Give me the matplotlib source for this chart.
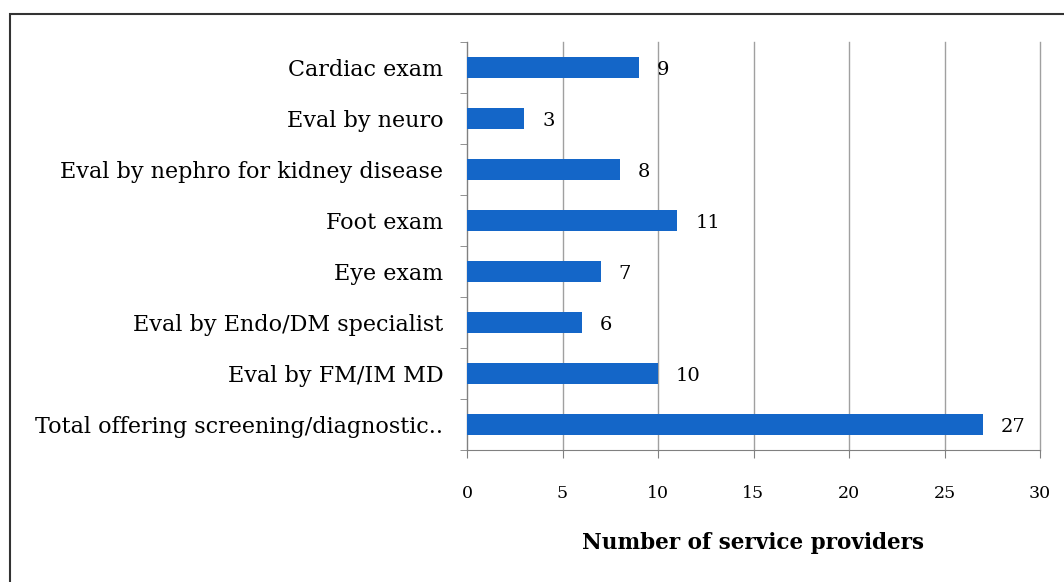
import matplotlib
matplotlib.use("Agg")
import matplotlib.pyplot as plt
from matplotlib.patches import Rectangle

categories = ["Cardiac exam", "Eval by neuro", "Eval by nephro for kidney disease",
              "Foot exam", "Eye exam", "Eval by Endo/DM specialist",
              "Eval by FM/IM MD", "Total offering screening/diagnostic.."]
values = [9, 3, 8, 11, 7, 6, 10, 27]
xticks = [0, 5, 10, 15, 20, 25, 30]
xlabel = "Number of service providers"

plt.rcParams['font.family'] = ['DejaVu Serif']

fig = plt.figure(figsize=(10.64, 5.82), dpi=100)
ax = fig.add_axes([467/1064, 1 - 450/582, (1040 - 467)/1064, (450 - 42)/582])

n = len(categories)
ypos = list(range(n))
ax.barh(ypos, values, height=0.4, color='#1466C8', zorder=3)
ax.set_ylim(n - 0.5, -0.5)
ax.set_xlim(0, 30)
ax.set_xticks(xticks)
ax.set_xticklabels([str(t) for t in xticks], fontsize=12.5)
ax.set_yticks(ypos)
ax.set_yticklabels(categories, fontsize=16)
ax.set_yticks([i - 0.5 for i in range(n + 1)], minor=True)
ax.tick_params(axis='y', which='major', length=0, pad=17)
ax.tick_params(axis='y', which='minor', length=5, color='#808080', direction='out')
ax.tick_params(axis='x', length=6, color='#808080', direction='out', pad=19)
ax.grid(axis='x', color='#A0A0A0', linewidth=1, zorder=0)
for line in ax.get_xgridlines():
    line.set_clip_on(False)
for s in ['top', 'right']:
    ax.spines[s].set_visible(False)
for s in ['left', 'bottom']:
    ax.spines[s].set_color('#808080')
ax.set_xlabel(xlabel, fontsize=15.5, fontweight='bold', labelpad=22)

for y, v in zip(ypos, values):
    ax.annotate(str(v), (v, y), xytext=(13, -2), textcoords='offset points',
                va='center', ha='left', fontsize=14, zorder=4)

fig.patches.append(Rectangle((10/1064, -0.05), 1.1, 1 - 14/582 + 0.05,
                             transform=fig.transFigure, fill=False,
                             edgecolor='#333333', linewidth=1.5))

fig.savefig("out.png", dpi=100)
